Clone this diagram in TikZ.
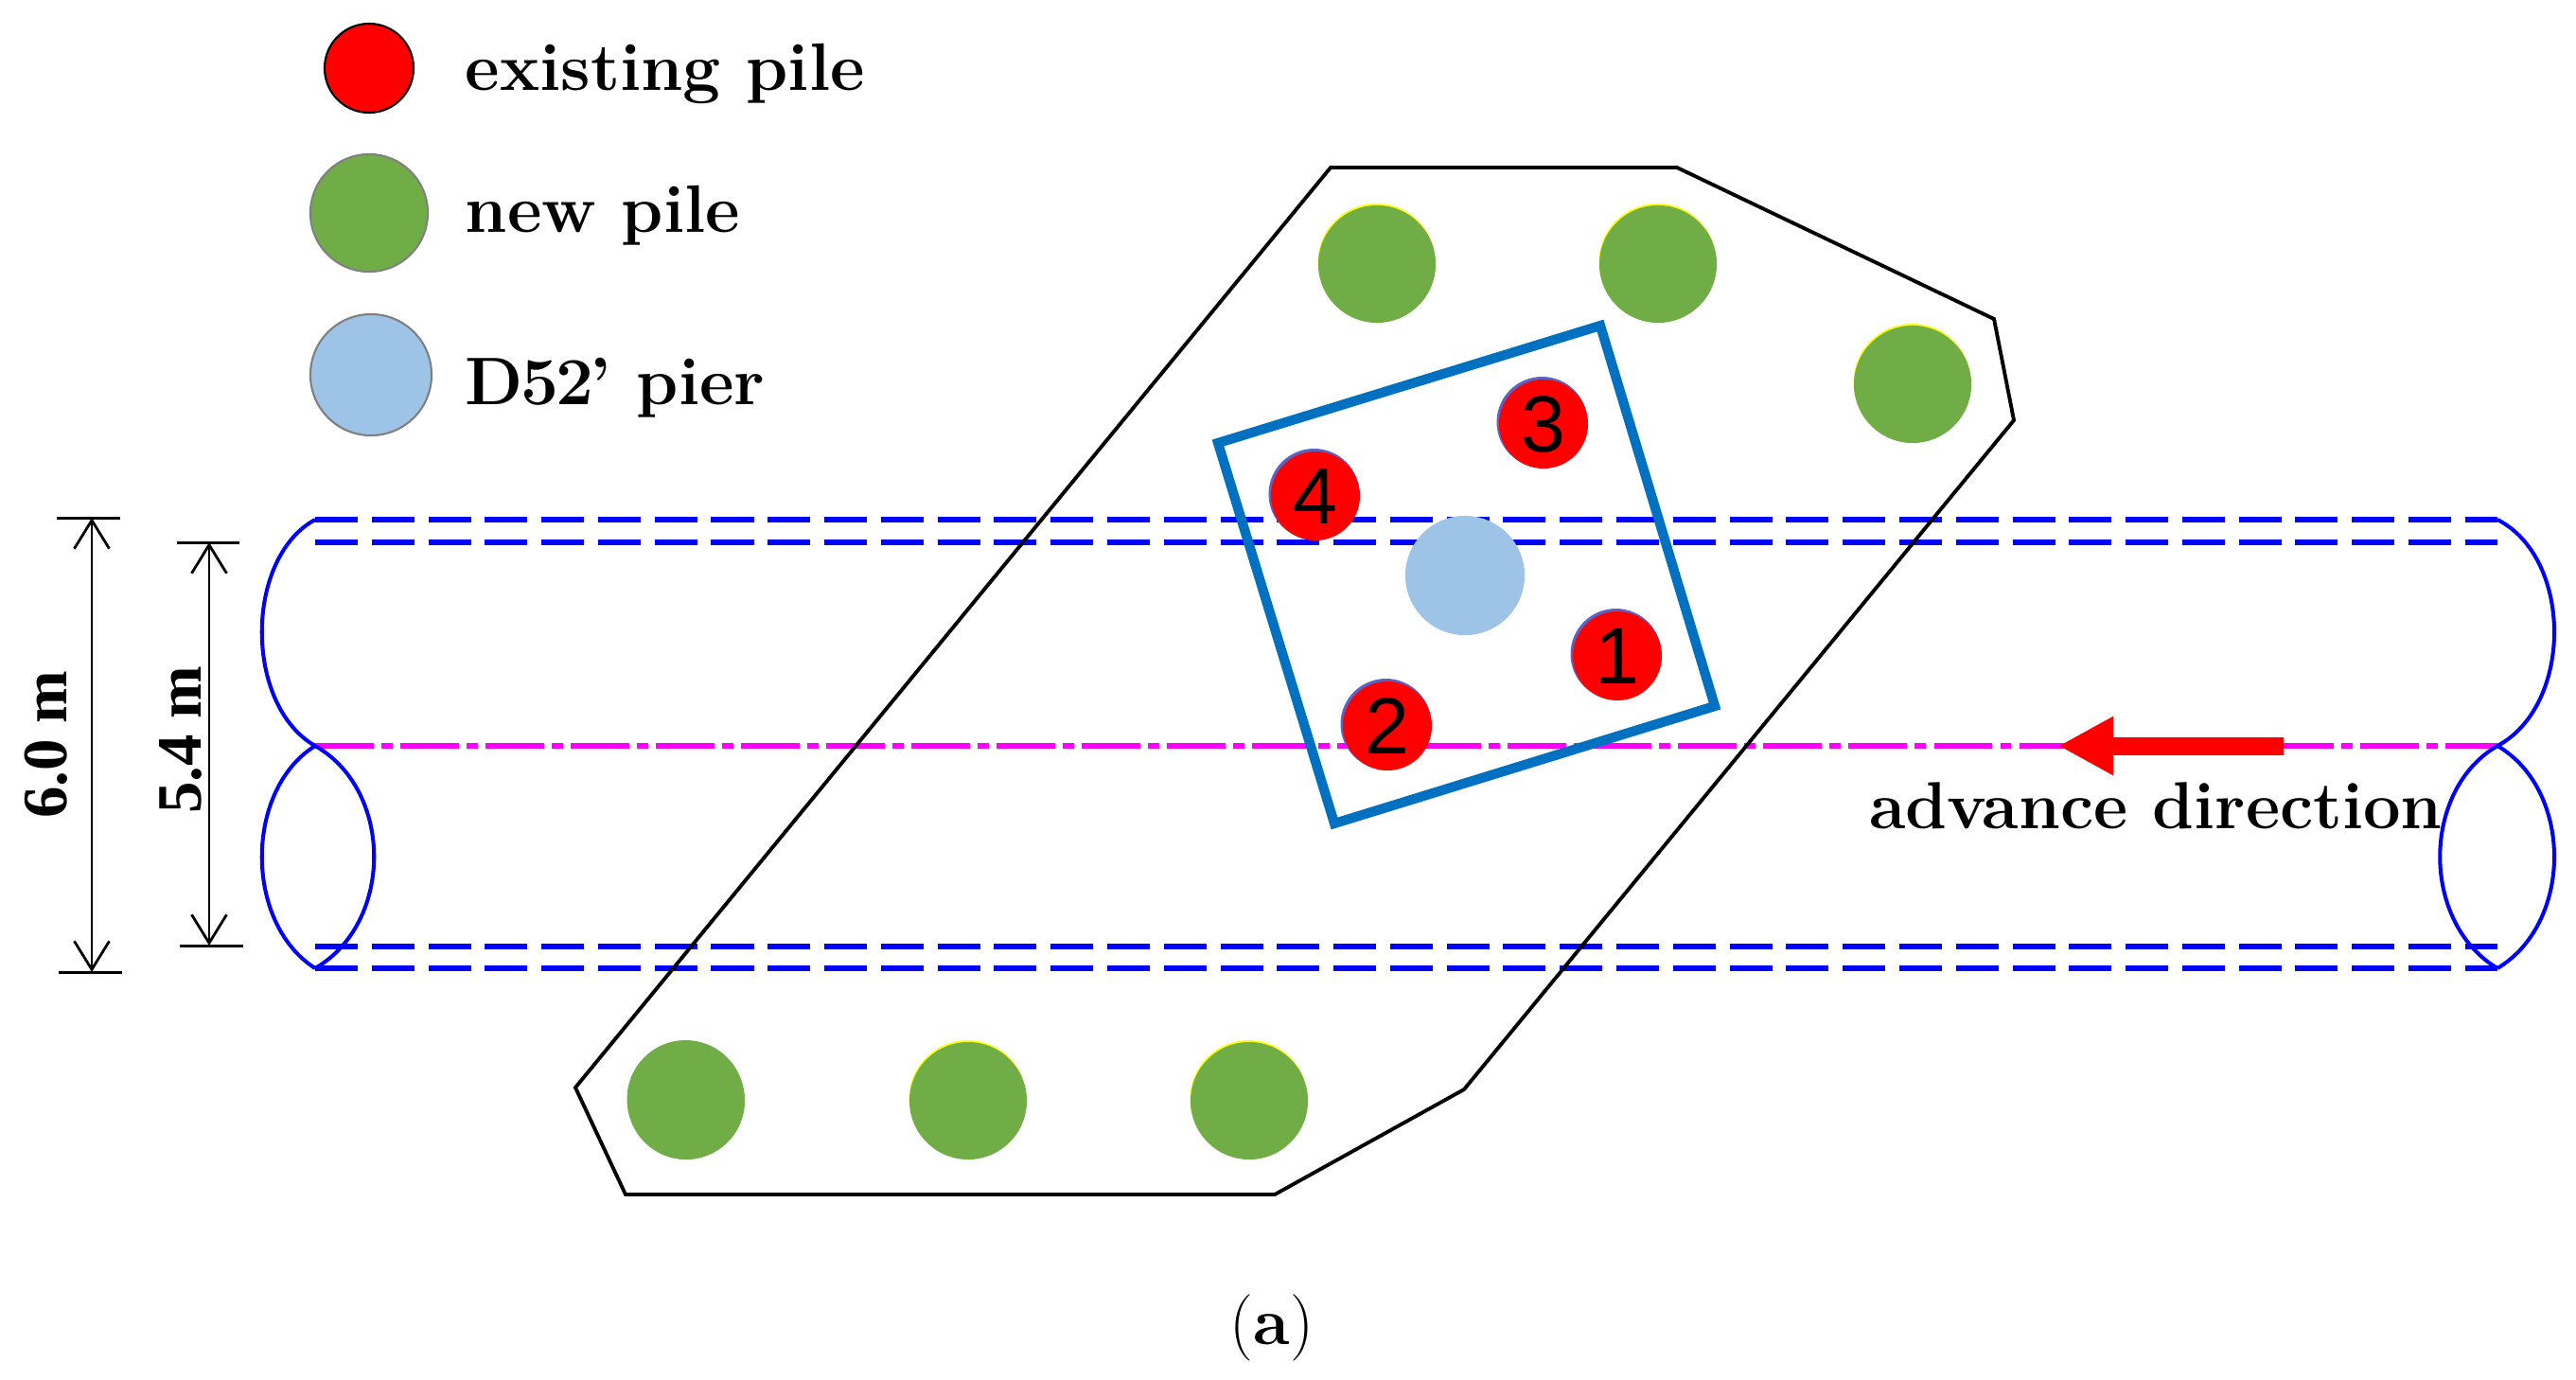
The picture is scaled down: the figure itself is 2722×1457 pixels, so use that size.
\documentclass[tikz,border=0pt]{standalone}
\usepackage{fontspec}
\usetikzlibrary{arrows.meta}
\newfontfamily\dimfont{Liberation Serif}
\newfontfamily\numfont{Liberation Sans}
\definecolor{pilegreen}{HTML}{70AD47}
\definecolor{pierblue}{HTML}{9DC3E6}
\definecolor{capblue}{HTML}{0070C0}
\definecolor{haloblue}{HTML}{5B62C0}
\definecolor{axispink}{HTML}{FF00FF}
\definecolor{edgeyellow}{HTML}{FFFF00}
\definecolor{wallblue}{HTML}{0000FF}
\definecolor{arrowred}{HTML}{FF0000}
\tikzset{
  existing/.style={circle, fill=arrowred, inner sep=0pt, minimum size=0.94cm, font=\numfont\fontsize{24}{24}\selectfont},
  newpile/.style={circle, fill=pilegreen, inner sep=0pt, minimum size=1.24cm},
  pier/.style={circle, fill=pierblue, inner sep=0pt, minimum size=1.26cm},
  legendtext/.style={anchor=base west, inner sep=0pt, font=\bfseries\fontsize{20.2}{24}\selectfont},
  dimtext/.style={anchor=base, rotate=90, inner sep=0pt, font=\dimfont\bfseries\fontsize{19}{22}\selectfont},
  wall/.style={wallblue, line width=1.5pt, dash pattern=on 12.8pt off 4.2pt},
  rim/.style={wallblue, line width=1.15pt},
  axisline/.style={axispink, line width=1.6pt, dash pattern=on 17.6pt off 2.3pt on 3.4pt off 2.3pt},
  dimline/.style={black, line width=0.8pt, {Straight Barb[length=0.3cm,width=0.37cm]}-{Straight Barb[length=0.3cm,width=0.37cm]}}
}
\begin{document}
\begin{tikzpicture}[x=0.01cm, y=-0.01cm]
  \useasboundingbox (0,0) rectangle (2722,1457);
  % tunnel
  \draw[wall] (333,549) -- (2639,549);
  \draw[wall] (333,573) -- (2639,573);
  \draw[wall] (333,1000) -- (2639,1000);
  \draw[wall] (333,1023) -- (2639,1023);
  \draw[axisline] (333,788) -- (2639,788);
  \draw[rim] (333,549) .. controls (258,590) and (258,745) .. (333,788)
    .. controls (416,835) and (416,975) .. (333,1023);
  \draw[rim] (333,788) .. controls (258,835) and (258,975) .. (333,1023);
  \draw[rim] (2639,549) .. controls (2719,590) and (2719,745) .. (2639,788)
    .. controls (2558,835) and (2558,975) .. (2639,1023);
  \draw[rim] (2639,788) .. controls (2719,835) and (2719,975) .. (2639,1023);
  % cap
  \draw[black, line width=1.1pt] (1406,177) -- (1772,177) -- (2107,337) -- (2128,444)
    -- (1547,1151) -- (1347,1262) -- (661,1262) -- (608,1149) -- cycle;
  % new piles
  \foreach \name/\p/\c in {a/{1455,279}/edgeyellow, b/{1752,279}/edgeyellow, c/{2021,406}/edgeyellow,
      d/{725,1163}/pilegreen, e/{1023,1163}/edgeyellow, f/{1320,1163}/edgeyellow} {
    \fill[\c] (\p) ++(-0.5,-2) circle (62);
    \node[newpile] (new\name) at (\p) {};
  }
  % pier and old cap
  \node[pier] (pier) at (1548,608) {};
  \draw[wallblue, line width=1pt, line join=miter] (1285,470) -- (1408,872) -- (1811,748);
  \draw[capblue, line width=2.9pt, line join=miter] (1287,468) -- (1691,344) -- (1812,746) -- (1410,870) -- cycle;
  % existing piles
  \foreach \n/\p in {1/{1709,693}, 2/{1466,767}, 3/{1631,448}, 4/{1390,524}} {
    \fill[haloblue] (\p) ++(-1.5,-2) circle (48);
    \node[existing] (pile\n) at (\p) {\n};
  }
  % advance arrow
  \coordinate (tail) at (2413,788);
  \coordinate (head) at (2175,788);
  \draw[arrowred, line width=0.19cm, -{Triangle[length=0.58cm,width=0.58cm]}] (tail) -- (head);
  \node[anchor=base, inner sep=0pt, font=\bfseries\fontsize{20}{24}\selectfont] (advance) at (2278,875) {advance direction};
  % dimensions
  \coordinate (outertop) at (97,547);
  \coordinate (outerbot) at (97,1027);
  \coordinate (innertop) at (221,573);
  \coordinate (innerbot) at (221,999);
  \draw[dimline] (outertop) -- (outerbot);
  \draw[dimline] (innertop) -- (innerbot);
  \draw[black, line width=0.85pt] (60,547) -- (127,547);
  \draw[black, line width=0.85pt] (62,1027) -- (129,1027);
  \draw[black, line width=0.85pt] (187,573) -- (253,573);
  \draw[black, line width=0.85pt] (190,999) -- (257,999);
  \node[dimtext] (outerlabel) at (70,787) {6.0 m};
  \node[dimtext] (innerlabel) at (212,782) {5.4 m};
  % legend
  \node[existing, draw=black, line width=0.6pt] (keyred) at (390,72) {};
  \node[newpile, draw=gray, line width=0.6pt] (keygreen) at (390,225) {};
  \node[pier, minimum size=1.28cm, draw=gray, line width=0.6pt] (keyblue) at (392,396) {};
  \node[legendtext] (keyredtext) at (491,95) {existing pile};
  \node[legendtext] (keygreentext) at (491,245) {new pile};
  \node[legendtext] (keybluetext) at (491,427) {D\kern-0.8pt5\kern-0.8pt2\kern-1pt’ pier};
  % caption
  \node[anchor=base, inner sep=0pt, font=\fontsize{20}{24}\selectfont] (caption) at (1344,1420) {(\textbf{a})};
\end{tikzpicture}
\end{document}
